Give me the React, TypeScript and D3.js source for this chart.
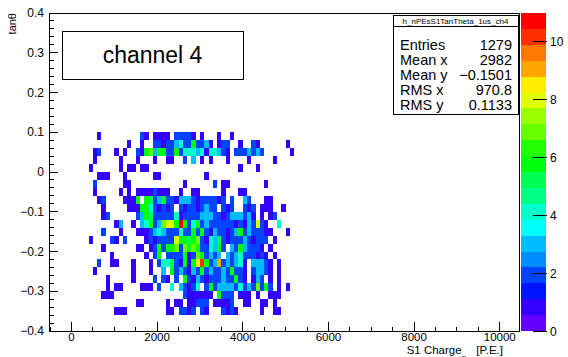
import React from 'react';
import * as d3 from 'd3';

const W = 568;
const H = 357;

// histogram binning (data values)
const xBinStart = 400; // lower edge of first column [P.E.]
const xBinWidth = 100;
const yBinTop = 0.1; // upper edge of first row
const yBinHeight = 0.02;

// bin contents: one string per tan(theta) row (top to bottom), one char per x bin; '.'=0, 'a'=10, 'b'=11
const rows: string[] = [
  '..1.......' + '..21.1111.' + '22221.1...' + '1..1......' + '.........',
  '.........1' + '..1..22122' + '342262231.' + '122..1..21' + '......1..',
  '.12...1.1.' + '.216736622' + '6244434144' + '321.222323' + '2......1.',
  '.1.....1..' + '.1...1..11' + '..2.3.1.1.' + '..1....1..' + '...1.....',
  '1......1.1' + '1.11......' + '..........' + '.....1...1' + '.........',
  '..111...1.' + '.....11...' + '.......1..' + '..........' + '.........',
  '.2......11' + '..........' + '..1......2' + '.11.......' + '.1.......',
  '.1.....1.1' + '.11112111.' + '.1..11....' + '.1...11...' + '.........',
  '..12....11' + '16.6523622' + '1333212222' + '12.2..32..' + '.11......',
  '...1.....1' + '1166421212' + '.212212322' + '.212..212.' + '111..1...',
  '...12.....' + '.236522222' + '4122223332' + '212333231.' + '1.12.....',
  '......13..' + '1.34623788' + '6b62462322' + '2222121328' + '21..4....',
  '...2...1..' + '.111234322' + '2422626213' + '2212362322' + '211...1..',
  '1....21.2.' + '...1212222' + '8665672143' + '5212223212' + '22.1.....',
  '...1......' + '.11.126266' + '7276762243' + '62.3263222' + '1.1......',
  '.....1....' + '...1.26.22' + '2261276232' + '3.32342221' + '21.1.....',
  '..2..11...' + '1...1.2445' + '216168a623' + '9232341.33' + '321.1....',
  '.1........' + '1...1..3.6' + '2321326232' + '2326221.23' + '321.1....',
  '....1.....' + '1....2.21.' + '2.62132122' + '2322621.13' + '2.1.1....',
  '....1.11..' + '..111.2..4' + '.32124.262' + '3333242327' + '262.1.1..',
  '...111....' + '..........' + '..2111111.' + '6222.111.1' + '..111....',
  '..........' + '.11.....1.' + '11.11222.1' + '1112..11..' + '11.1.....',
  '......111.' + '........11' + '.2212.21..' + '.2121.....' + '1..11....',
];

const xDomain = [-525, 10450];
const yDomain = [-0.4, 0.4];
const zMax = 11;
const nContours = 20;

const xMajorTicks = [0, 2000, 4000, 6000, 8000, 10000];
const yMajorTicks = [0.4, 0.3, 0.2, 0.1, 0, -0.1, -0.2, -0.3, -0.4];
const zTicks = [0, 2, 4, 6, 8, 10];

const statsTitle = 'h_nPEsS1TanTheta_1us_ch4';
const statsLabels = ['Entries', 'Mean x', 'Mean y', 'RMS x', 'RMS y'];
const statsValues = ['1279', '2982', '\u22120.1501', '970.8', '0.1133'];

const FONT = "'Liberation Sans', Arial, Helvetica, sans-serif";

const frame = { left: 49, right: 519, top: 13, bottom: 331 };
const cbar = { left: 521, right: 546 };

function bandColor(j: number): string {
  const idx = Math.floor(((j + 0.99) * 50) / nContours);
  const hue = 280 - (idx + 1) * 5.6;
  return d3.hsl(hue, 1, 0.5).formatHex();
}
function cellColor(v: number): string {
  const j = Math.min(nContours - 1, Math.floor((v + 1e-9) / (zMax / nContours)));
  return bandColor(j);
}
const fmtY = (v: number) => (Math.abs(v) < 1e-9 ? '0' : d3.format('.1f')(v).replace('-', '\u2212'));

export default function App() {
  const x = d3.scaleLinear().domain(xDomain).range([frame.left, frame.right]);
  const y = d3.scaleLinear().domain(yDomain).range([frame.bottom, frame.top]);
  const z = d3.scaleLinear().domain([0, zMax]).range([frame.bottom, frame.top]);

  const cells: JSX.Element[] = [];
  rows.forEach((row, r) => {
    for (let i = 0; i < row.length; i++) {
      const ch = row[i];
      if (ch === '.') continue;
      const v = parseInt(ch, 36);
      const x0 = xBinStart + i * xBinWidth;
      const yt = yBinTop - r * yBinHeight;
      const px0 = x(x0);
      const px1 = x(x0 + xBinWidth);
      const py0 = y(yt);
      const py1 = y(yt - yBinHeight);
      cells.push(
        <rect key={`${r}-${i}`} x={px0} y={py0} width={px1 - px0} height={py1 - py0} fill={cellColor(v)} />
      );
    }
  });

  const xMinor: number[] = [];
  for (let v = -500; v <= 10000 + 1e-6; v += 500) if (!xMajorTicks.includes(v)) xMinor.push(v);
  const yMinor: number[] = [];
  for (let k = -20; k <= 20; k++) {
    const v = k * 0.02;
    if (k % 5 !== 0) yMinor.push(v);
  }

  const bands = d3.range(nContours).map((j) => ({
    j,
    z0: (j * zMax) / nContours,
    z1: ((j + 1) * zMax) / nContours,
  }));

  const sx = 393;
  const sx2 = 518;
  const sTop = 15;
  const sSep = 26;
  const sBottom = 114;

  return (
    <svg
      width={W}
      height={H}
      style={{ position: 'absolute', left: 0, top: 0, background: '#fff' }}
      fontFamily={FONT}
    >
      <rect x={0} y={0} width={W} height={H} fill="#fff" />
      <g shapeRendering="crispEdges">{cells}</g>

      {/* frame */}
      <rect
        x={frame.left}
        y={frame.top}
        width={frame.right - frame.left}
        height={frame.bottom - frame.top}
        fill="none"
        stroke="#000"
        strokeWidth={1}
        shapeRendering="crispEdges"
      />

      {/* ticks */}
      <g stroke="#000" strokeWidth={1} shapeRendering="crispEdges">
        {xMajorTicks.map((v) => (
          <line key={`xm${v}`} x1={x(v)} x2={x(v)} y1={frame.bottom} y2={frame.bottom - 9} />
        ))}
        {xMinor.map((v) => (
          <line key={`xn${v}`} x1={x(v)} x2={x(v)} y1={frame.bottom} y2={frame.bottom - 4.5} />
        ))}
        {yMajorTicks.map((v) => (
          <line key={`ym${v}`} x1={frame.left} x2={frame.left + 9} y1={y(v)} y2={y(v)} />
        ))}
        {yMinor.map((v) => (
          <line key={`yn${v}`} x1={frame.left} x2={frame.left + 5} y1={y(v)} y2={y(v)} />
        ))}
      </g>

      {/* x labels */}
      <g fontSize={11.5} fill="#000" textAnchor="middle">
        {xMajorTicks.map((v) => (
          <text key={`xl${v}`} x={x(v)} y={340.5}>
            {String(v)}
          </text>
        ))}
      </g>
      <text x={503} y={354} fontSize={11.5} textAnchor="end" fill="#000">
        S1 Charge
        <tspan fontSize={7.5} dy={0.5}>
          {'_\u00a0\u00a0'}
        </tspan>
        <tspan dy={-0.5}>{'\u00a0\u00a0[P.E.]'}</tspan>
      </text>

      {/* y labels */}
      <g fontSize={12} fill="#000" textAnchor="end">
        {yMajorTicks.map((v) => (
          <text key={`yl${v}`} x={44} y={y(v) + 4}>
            {fmtY(v)}
          </text>
        ))}
      </g>
      <text transform={`translate(16,${frame.top}) rotate(-90)`} fontSize={11} textAnchor="end" fill="#000">
        tanθ
      </text>

      {/* colour bar */}
      <g shapeRendering="crispEdges">
        {bands.map((b) => (
          <rect
            key={`cb${b.j}`}
            x={cbar.left}
            y={z(b.z1)}
            width={cbar.right - cbar.left}
            height={z(b.z0) - z(b.z1)}
            fill={bandColor(b.j)}
          />
        ))}
      </g>
      <g stroke="#000" strokeWidth={1} shapeRendering="crispEdges">
        {zTicks.map((v) => (
          <line key={`zt${v}`} x1={cbar.right - 13} x2={cbar.right + 1} y1={z(v)} y2={z(v)} />
        ))}
      </g>
      <g fontSize={12} fill="#000">
        {zTicks.map((v) => (
          <text key={`zl${v}`} x={550} y={z(v) + 4.5}>
            {String(v)}
          </text>
        ))}
      </g>

      {/* stats box */}
      <rect x={sx} y={sTop} width={sx2 - sx} height={sBottom - sTop} fill="#fff" stroke="#000" shapeRendering="crispEdges" />
      <line x1={sx} x2={sx2} y1={sSep} y2={sSep} stroke="#000" shapeRendering="crispEdges" />
      <text x={(sx + sx2) / 2} y={23.5} fontSize={8} textAnchor="middle" fill="#000">
        {statsTitle}
      </text>
      {statsLabels.map((l, i) => (
        <g key={l}>
          <text x={400} y={49.5 + i * 15} fontSize={14.5} fill="#000">
            {l}
          </text>
          <text x={512} y={49.5 + i * 15} fontSize={14.5} textAnchor="end" fill="#000">
            {statsValues[i]}
          </text>
        </g>
      ))}

      {/* channel label */}
      <rect x={62} y={31} width={181} height={48} fill="#fff" stroke="#000" shapeRendering="crispEdges" />
      <text x={152.5} y={63} fontSize={23} textAnchor="middle" fill="#000">
        channel 4
      </text>
    </svg>
  );
}
